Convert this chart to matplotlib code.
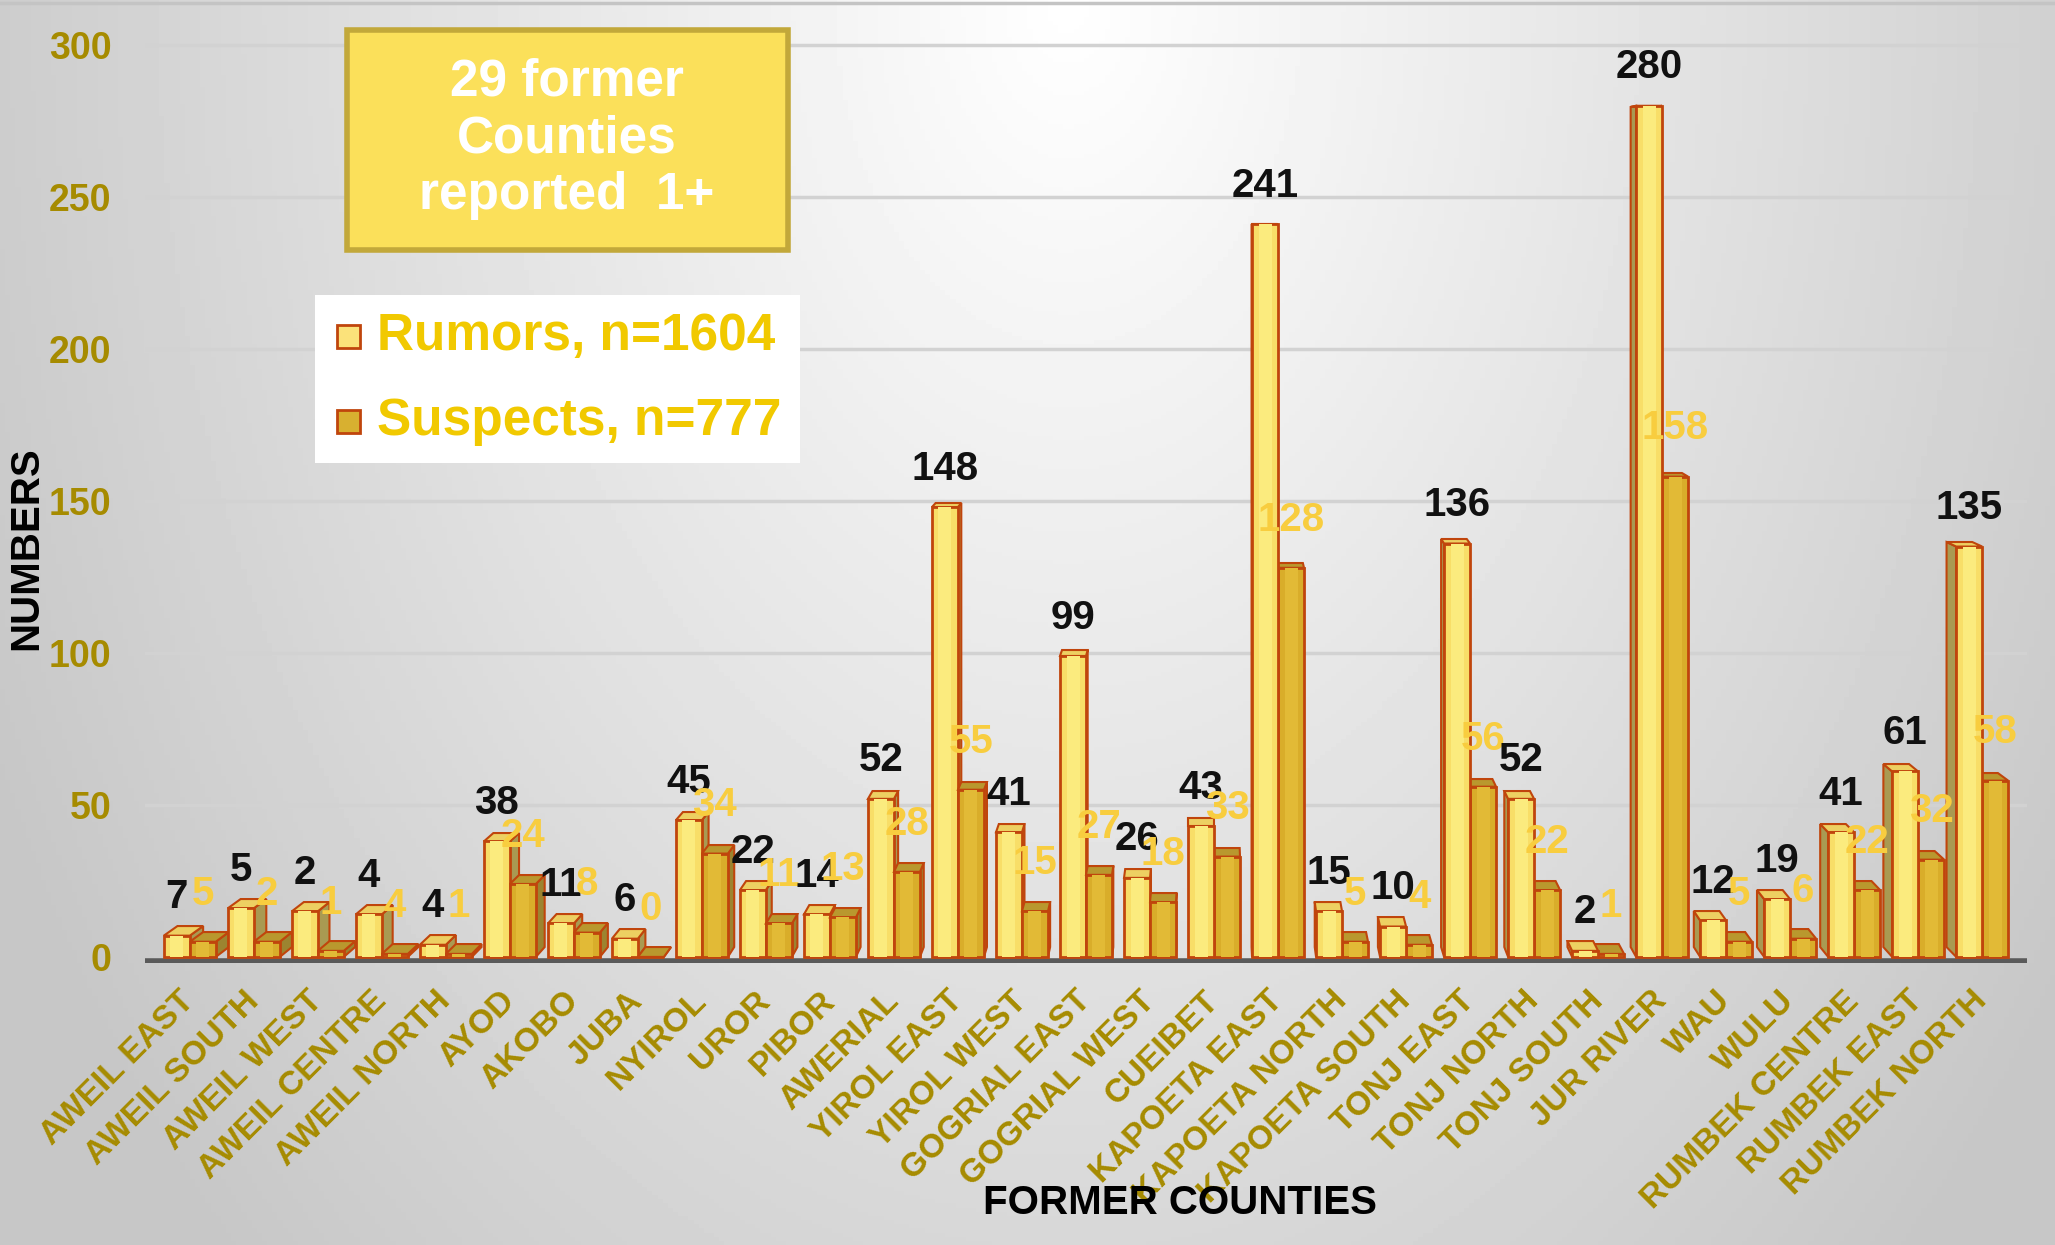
import numpy as np
import matplotlib.pyplot as plt
from matplotlib.patches import Polygon, Rectangle
from matplotlib.lines import Line2D

plt.rcParams['font.family'] = ['Liberation Sans', 'DejaVu Sans']

# data
counties = ["AWEIL EAST", "AWEIL SOUTH", "AWEIL WEST", "AWEIL CENTRE", "AWEIL NORTH",
            "AYOD", "AKOBO", "JUBA", "NYIROL", "UROR", "PIBOR", "AWERIAL",
            "YIROL EAST", "YIROL WEST", "GOGRIAL EAST", "GOGRIAL WEST", "CUEIBET",
            "KAPOETA EAST", "KAPOETA NORTH", "KAPOETA SOUTH", "TONJ EAST", "TONJ NORTH",
            "TONJ SOUTH", "JUR RIVER", "WAU", "WULU", "RUMBEK CENTRE", "RUMBEK EAST",
            "RUMBEK NORTH"]
rumors = [7, 16, 15, 14, 4, 38, 11, 6, 45, 22, 14, 52, 148, 41, 99, 26, 43,
          241, 15, 10, 136, 52, 2, 280, 12, 19, 41, 61, 135]
suspects = [5, 5, 2, 1, 1, 24, 8, 0, 34, 11, 13, 28, 55, 15, 27, 18, 33,
            128, 5, 4, 56, 22, 1, 158, 5, 6, 22, 32, 58]
# the labels printed on the chart (they differ from the bars for a few AWEIL ones)
rumor_labels = [7, 5, 2, 4, 4, 38, 11, 6, 45, 22, 14, 52, 148, 41, 99, 26, 43,
                241, 15, 10, 136, 52, 2, 280, 12, 19, 41, 61, 135]
suspect_labels = [5, 2, 1, 4, 1, 24, 8, 0, 34, 11, 13, 28, 55, 15, 27, 18, 33,
                  128, 5, 4, 56, 22, 1, 158, 5, 6, 22, 32, 58]
yticks = [0, 50, 100, 150, 200, 250, 300]

W, H = 2055, 1245
EDGE = "#C0450C"
GOLD_TXT = "#A68B00"
VP = (16.0, 250.0)   # vanishing point for the fake 3D look
DEPTH = 0.013

fig = plt.figure(figsize=(W / 100, H / 100), dpi=100)

# gray gradient background
bg = fig.add_axes([0, 0, 1, 1], zorder=-10)
gx, gy = np.meshgrid(np.linspace(0, 1, 400), np.linspace(0, 1, 300))
d = np.clip(np.sqrt(((gx - 0.52) / 0.52) ** 2 * 0.8 + gy ** 2 * 0.5), 0, 1)
bg.imshow(1 - 0.22 * d, cmap="gray", vmin=0, vmax=1, extent=[0, 1, 0, 1], aspect="auto")
bg.axis("off")
fig.add_artist(Line2D([0, 1], [1 - 3 / H] * 2, color="#C4C4C4", lw=2.5))

ax = fig.add_axes([145 / W, (H - 963) / H, 1882 / W, 954.5 / H])
ax.patch.set_alpha(0)
ax.set_xlim(-0.7, 28.7)
ax.set_ylim(-2, 312)
for s in ax.spines.values():
    s.set_visible(False)

for v in yticks[1:]:
    ax.axhline(v, color="#D2D2D2", lw=2.5, zorder=0.5)
ax.axhline(-1.3, color="#5A5A5A", lw=4, zorder=0.6)


def back(x, y):
    return (x + DEPTH * (VP[0] - x), y + DEPTH * (VP[1] - y))


def draw_bar(xc, w, h, front, light, side, top, z):
    x0, x1 = xc - w / 2, xc + w / 2
    if x1 < VP[0]:
        pts = [(x1, 0), (x1, h), back(x1, h), back(x1, 0)]
        ax.add_patch(Polygon(pts, facecolor=side, edgecolor=EDGE, lw=1.5, zorder=z))
    elif x0 > VP[0]:
        pts = [(x0, 0), (x0, h), back(x0, h), back(x0, 0)]
        ax.add_patch(Polygon(pts, facecolor=side, edgecolor=EDGE, lw=1.5, zorder=z))
    pts = [(x0, h), (x1, h), back(x1, h), back(x0, h)]
    ax.add_patch(Polygon(pts, facecolor=top, edgecolor=EDGE, lw=1.5, zorder=z))
    ax.bar(xc, h, w, color=front, edgecolor=EDGE, lw=2, zorder=z + 0.1)
    ax.bar(xc, h, w * 0.5, color=light, lw=0, zorder=z + 0.2)


bw = 0.406
x = np.arange(len(counties))
for i in x:
    r = (i - bw / 2, rumors[i], "#F8DE68", "#FBEB7E", "#A99A52", "#EDD062")
    s = (i + bw / 2, suspects[i], "#D9AD2A", "#E2BA36", "#9C8430", "#B9982E")
    order = [r, s] if i < VP[0] else [s, r]
    for k, (xc, h, fc, lc, sc, tc) in enumerate(order):
        draw_bar(xc, bw, h, fc, lc, sc, tc, 2 + i + k * 0.4)

for i in x:
    ax.annotate(str(rumor_labels[i]), (i - bw / 2, rumors[i]), xytext=(0, 14),
                textcoords="offset points", ha="center", va="bottom",
                fontsize=29, fontweight="bold", color="#111111", zorder=50)
    ax.annotate(str(suspect_labels[i]), (i + bw / 2, suspects[i]), xytext=(0, 21),
                textcoords="offset points", ha="center", va="bottom",
                fontsize=29, fontweight="bold", color="#F8CD3F", zorder=50)

ax.set_yticks(yticks)
ax.set_yticklabels([str(v) for v in yticks], fontsize=27, fontweight="bold", color=GOLD_TXT)
ax.tick_params(axis="y", length=0, pad=24)
ax.set_xticks(x)
ax.set_xticklabels(counties, rotation=45, ha="right", va="center", rotation_mode="anchor",
                   fontsize=24, fontweight="bold", color=GOLD_TXT)
ax.tick_params(axis="x", length=0, pad=24)

fig.text(26 / W, 1 - 548 / H, "NUMBERS", rotation=90, fontsize=29, fontweight="bold",
         ha="center", va="center")
fig.text(1180 / W, 1 - 1203 / H, "FORMER COUNTIES", fontsize=29, fontweight="bold",
         ha="center", va="center")

# title box
fig.add_artist(Rectangle((347 / W, 1 - 250 / H), 441 / W, 220 / H, transform=fig.transFigure,
                         facecolor="#FBE05A", edgecolor="#C2A83A", lw=4))
fig.text(567 / W, 1 - 139 / H, "29 former\nCounties\nreported  1+", ha="center", va="center",
         color="white", fontsize=37, fontweight="bold", linespacing=1.2)

# legend
fig.add_artist(Rectangle((315 / W, 1 - 463 / H), 485 / W, 168 / H, transform=fig.transFigure,
                         facecolor="white", edgecolor="none"))
for name, fc, yc in [("Rumors, n=1604", "#FBE27A", 337), ("Suspects, n=777", "#D8B030", 422)]:
    fig.add_artist(Rectangle((337 / W, 1 - (yc + 11) / H), 23 / W, 23 / H,
                             transform=fig.transFigure, facecolor=fc, edgecolor=EDGE, lw=2))
    fig.text(377 / W, 1 - yc / H, name, ha="left", va="center", color="#F1C900",
             fontsize=37, fontweight="bold")

fig.savefig("out.png", dpi=100)
